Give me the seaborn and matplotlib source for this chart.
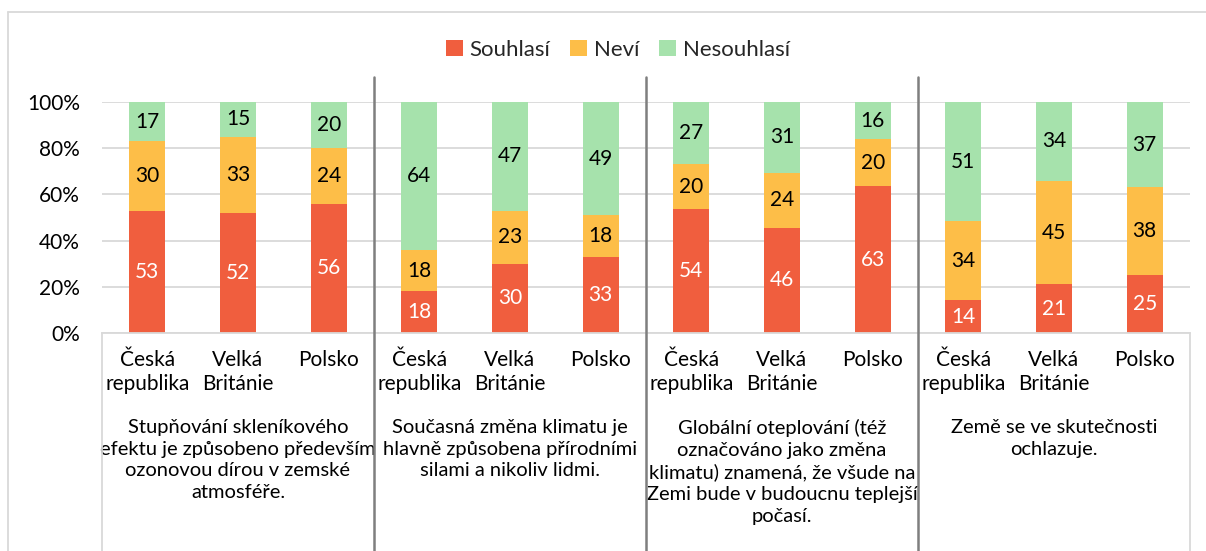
import numpy as np
import pandas as pd
import matplotlib
matplotlib.use("Agg")
import matplotlib.pyplot as plt
import seaborn as sns
from matplotlib.transforms import blended_transform_factory
from matplotlib.lines import Line2D
from matplotlib.patches import Patch

# ---- data ----
countries = ["Česká\nrepublika", "Velká\nBritánie", "Polsko"]
statements = [
    "Stupňování skleníkového\nefektu je způsobeno především\nozonovou dírou v zemské\natmosféře.",
    "Současná změna klimatu je\nhlavně způsobena přírodními\nsilami a nikoliv lidmi.",
    "Globální oteplování (též\noznačováno jako změna\nklimatu) znamená, že všude na\nZemi bude v budoucnu teplejší\npočasí.",
    "Země se ve skutečnosti\nochlazuje.",
]
souhlasi = [53, 52, 56, 18, 30, 33, 54, 46, 63, 14, 21, 25]
nevi = [30, 33, 24, 18, 23, 18, 20, 24, 20, 34, 45, 38]
nesouhlasi = [17, 15, 20, 64, 47, 49, 27, 31, 16, 51, 34, 37]
series_names = ["Souhlasí", "Neví", "Nesouhlasí"]
colors = ["#F05E3E", "#FDBE48", "#A6E2AC"]
yticks = [0, 20, 40, 60, 80, 100]

sns.set_theme(style="white")
plt.rcParams["font.family"] = ["Lato", "DejaVu Sans"]

FS = 15
W, H = 1206, 551
fig = plt.figure(figsize=(W / 100, H / 100), dpi=100)
ax = fig.add_axes([102 / W, 1 - 333 / H, (1190 - 102) / W, (333 - 102) / H])

n = len(souhlasi)
keys = [f"b{i}" for i in range(n)]
s = np.array(souhlasi, float)
nv = np.array(nevi, float)
ns = np.array(nesouhlasi, float)
tot = s + nv + ns
ps, pn, pg = s / tot * 100, nv / tot * 100, ns / tot * 100

df = pd.DataFrame({"key": keys, "red": ps, "orange": ps + pn, "green": ps + pn + pg})
for col, c in zip(["green", "orange", "red"], colors[::-1]):
    sns.barplot(data=df, x="key", y=col, order=keys, color=c, saturation=1,
                width=0.4, linewidth=0, ax=ax)

# value labels
for i in range(n):
    ax.text(i, ps[i] / 2, f"{souhlasi[i]}", ha="center", va="center", color="white", fontsize=FS)
    ax.text(i, ps[i] + pn[i] / 2, f"{nevi[i]}", ha="center", va="center", color="black", fontsize=FS)
    ax.text(i, ps[i] + pn[i] + pg[i] / 2, f"{nesouhlasi[i]}", ha="center", va="center", color="black", fontsize=FS)

ax.set_xlim(-0.5, n - 0.5)
ax.set_ylim(0, 100)
ax.set_yticks(yticks)
ax.set_yticklabels([f"{v}%" for v in yticks], fontsize=FS, color="#000000")
ax.tick_params(axis="y", length=0, pad=16)
ax.set_xticks([])
ax.set_xlabel("")
ax.set_ylabel("")
ax.grid(axis="y", color="#D9D9D9", linewidth=1.3)
ax.set_axisbelow(True)
for sp in ["top", "right", "left"]:
    ax.spines[sp].set_visible(False)
ax.spines["bottom"].set_color("#D9D9D9")
ax.spines["bottom"].set_linewidth(1.3)

trans = blended_transform_factory(ax.transData, fig.transFigure)
for i in range(n):
    ax.text(i, 1 - 350 / H, countries[i % 3], transform=trans, ha="center", va="top",
            fontsize=FS, linespacing=1.25, color="#000000")
for g, st in enumerate(statements):
    ax.text(3 * g + 1, 1 - 419 / H, st, transform=trans, ha="center", va="top",
            fontsize=14.5, linespacing=1.33, color="#000000")

# box lines of the category axis
for xv in [-0.5, n - 0.5]:
    fig.add_artist(Line2D([xv, xv], [0, 1 - 333 / H], transform=trans, color="#D9D9D9", lw=1.3))
# group separators
for xv in [2.5, 5.5, 8.5]:
    fig.add_artist(Line2D([xv, xv], [0, 1 - 77 / H], transform=trans, color="#7F7F7F", lw=1.8))

# chart frame
fig.add_artist(Line2D([8 / W, 1], [1 - 12 / H, 1 - 12 / H], transform=fig.transFigure, color="#D9D9D9", lw=1.3))
fig.add_artist(Line2D([8 / W, 8 / W], [0, 1 - 12 / H], transform=fig.transFigure, color="#D9D9D9", lw=1.3))

handles = [Patch(facecolor=c, edgecolor="none") for c in colors]
fig.legend(handles, series_names, loc="center", bbox_to_anchor=(618 / W, 1 - 50 / H), ncol=3,
           frameon=False, fontsize=16, handlelength=0.75, handleheight=0.75, handletextpad=0.3,
           columnspacing=0.9)

fig.savefig("out.png", dpi=100)
